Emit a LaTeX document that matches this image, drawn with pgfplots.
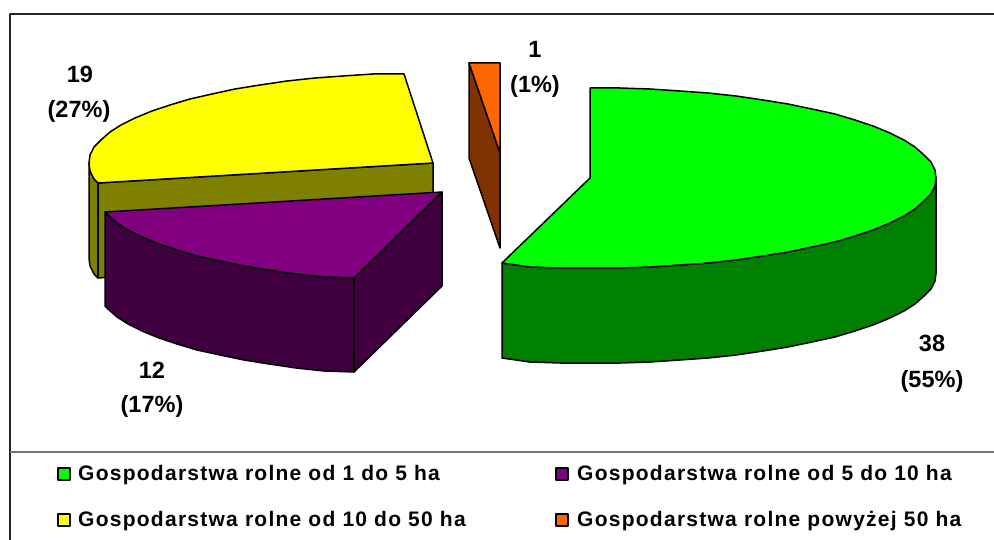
\documentclass[border=0pt]{standalone}
\usepackage{pgfplots}
\pgfplotsset{compat=1.18}
\usepackage{fontspec}
\setmainfont{Liberation Sans}
\newfontfamily\legfont[LetterSpace=6]{Liberation Sans}
\definecolor{cg}{RGB}{0,255,0}
\definecolor{cgd}{RGB}{0,128,0}
\definecolor{cy}{RGB}{255,255,0}
\definecolor{cyd}{RGB}{128,128,0}
\definecolor{cp}{RGB}{128,0,128}
\definecolor{cpd}{RGB}{64,0,64}
\definecolor{co}{RGB}{255,102,0}
\definecolor{cod}{RGB}{128,51,0}
\tikzset{
  lab/.style={font=\bfseries\fontsize{23.5}{27}\selectfont, anchor=base, inner sep=0pt},
  leg/.style={font=\legfont\bfseries\fontsize{21}{23}\selectfont, anchor=base west, inner sep=0pt},
}
\begin{document}
\begin{tikzpicture}
\begin{axis}[
  scale only axis, width=994pt, height=540pt,
  xmin=0, xmax=994, ymin=0, ymax=540, y dir=reverse,
  hide axis, clip=true,
  every axis plot/.append style={line width=1.5pt, line join=round},
]
% frame
\addplot[draw=black!85, line width=1.5pt] coordinates {(10,540) (10,14) (994,14)};
\addplot[draw=black!55, line width=1.3pt] coordinates {(10,452) (994,452)};
% yellow slice
\addplot[fill=cyd, draw=black] coordinates {(89,163) (90,171) (94,179) (98,183) (98,278) (94,274) (90,266) (89,258)} -- cycle;
\addplot[fill=cyd, draw=black] coordinates {(98,183) (433,163) (433,258) (98,278)} -- cycle;
\addplot[fill=cy, draw=black] coordinates {(404,74) (433,163) (98,183) (94,179) (90,171) (89,163) (90,155) (94,147) (101,140) (110,132) (121,125) (135,118) (152,111) (170,105) (190,99) (212,94) (235,89) (260,85) (287,81) (315,78) (343,76) (373,74)} -- cycle;
% purple slice
\addplot[fill=cpd, draw=black] coordinates {(105,212) (105,306) (108,309) (117,317) (128,324) (142,331) (159,338) (177,344) (197,350) (220,355) (244,360) (269,364) (296,368) (324,371) (354,372) (354,278) (324,277) (296,274) (269,270) (244,266) (220,261) (197,256) (177,250) (159,244) (142,237) (128,230) (117,223) (108,215)} -- cycle;
\addplot[fill=cpd, draw=black] coordinates {(354,278) (442,192) (442,286) (354,372)} -- cycle;
\addplot[fill=cp, draw=black] coordinates {(442,192) (105,212) (108,215) (117,223) (128,230) (142,237) (159,244) (177,250) (197,256) (220,261) (244,266) (269,270) (296,274) (324,277) (354,278)} -- cycle;
% orange slice
\addplot[fill=cod, draw=black] coordinates {(469,63) (500,153) (500,248) (469,158)} -- cycle;
\addplot[fill=co, draw=black] coordinates {(469,63) (500,63) (500,153)} -- cycle;
% green slice
\addplot[fill=cgd, draw=black] coordinates {(502,263) (530,267) (560,268) (590,268) (620,268) (650,267) (680,265) (708,263) (736,260) (763,256) (788,252) (812,247) (835,242) (855,236) (873,230) (890,223) (904,216) (915,209) (924,201) (931,194) (935,186) (936,178) (936,273) (935,281) (931,289) (924,296) (915,304) (904,311) (890,318) (873,325) (855,331) (835,337) (812,342) (788,347) (763,351) (736,355) (708,358) (680,360) (650,362) (620,363) (590,363) (560,363) (530,362) (502,358)} -- cycle;
\addplot[fill=cg, draw=black] coordinates {(590,88) (620,88) (650,89) (680,91) (708,93) (736,96) (763,100) (788,104) (812,109) (835,114) (855,120) (873,126) (890,133) (904,140) (915,147) (924,155) (931,162) (935,170) (936,178) (935,186) (931,194) (924,201) (915,209) (904,216) (890,223) (873,230) (855,236) (835,242) (812,247) (788,252) (763,256) (736,260) (708,263) (680,265) (650,267) (620,268) (590,268) (560,268) (530,267) (502,263) (590,178)} -- cycle;
% labels
\node[lab] at (axis cs:80,83) {19};
\node[lab] at (axis cs:79,118) {(27\%)};
\node[lab] at (axis cs:535,58) {1};
\node[lab] at (axis cs:535,93) {(1\%)};
\node[lab] at (axis cs:932,352) {38};
\node[lab] at (axis cs:932,387) {(55\%)};
\node[lab] at (axis cs:152,378) {12};
\node[lab] at (axis cs:152,412) {(17\%)};
% legend
\addplot[only marks, mark=square*, mark size=6pt, mark options={fill=cg, draw=black, line width=1.5pt}] coordinates {(64,474)};
\addplot[only marks, mark=square*, mark size=6pt, mark options={fill=cp, draw=black, line width=1.5pt}] coordinates {(562,474)};
\addplot[only marks, mark=square*, mark size=6pt, mark options={fill=cy, draw=black, line width=1.5pt}] coordinates {(64,520)};
\addplot[only marks, mark=square*, mark size=6pt, mark options={fill=co, draw=black, line width=1.5pt}] coordinates {(562,520)};
\node[leg] at (axis cs:78,480) {Gospodarstwa rolne od 1 do 5 ha};
\node[leg] at (axis cs:577,480) {Gospodarstwa rolne od 5 do 10 ha};
\node[leg] at (axis cs:78,526) {Gospodarstwa rolne od 10 do 50 ha};
\node[leg] at (axis cs:577,526) {Gospodarstwa rolne powyżej 50 ha};
\end{axis}
\useasboundingbox (current axis.south west) rectangle (current axis.north east);
\end{tikzpicture}
\end{document}
